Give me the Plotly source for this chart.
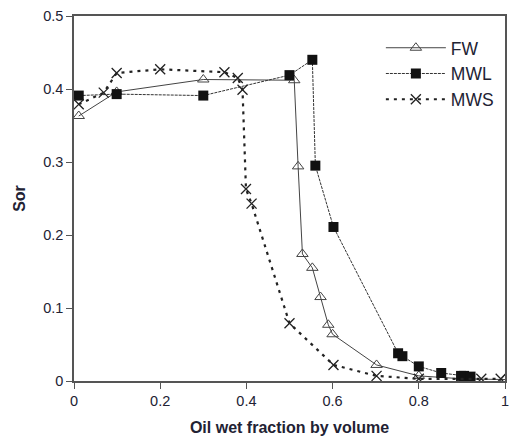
import plotly.graph_objects as go

fw_x = [0.011, 0.099, 0.30, 0.511, 0.52, 0.530, 0.553, 0.572, 0.590, 0.600, 0.702, 0.80, 0.90, 1.0]
fw_y = [0.363, 0.396, 0.413, 0.412, 0.294, 0.174, 0.155, 0.115, 0.077, 0.064, 0.022, 0.007, 0.003, 0.002]

mwl_x = [0.011, 0.099, 0.30, 0.50, 0.553, 0.560, 0.602, 0.752, 0.762, 0.80, 0.852, 0.898, 0.905, 0.92]
mwl_y = [0.391, 0.393, 0.391, 0.419, 0.440, 0.295, 0.211, 0.038, 0.034, 0.020, 0.011, 0.007, 0.007, 0.006]

mws_x = [0.011, 0.069, 0.099, 0.20, 0.349, 0.380, 0.391, 0.399, 0.412, 0.50, 0.602, 0.702, 0.80, 0.945, 0.99]
mws_y = [0.379, 0.395, 0.422, 0.427, 0.423, 0.415, 0.399, 0.263, 0.243, 0.079, 0.022, 0.007, 0.003, 0.003, 0.003]

x_ticks = [0, 0.2, 0.4, 0.6, 0.8, 1]
x_tick_labels = ["0", "0.2", "0.4", "0.6", "0.8", "1"]
y_ticks = [0, 0.1, 0.2, 0.3, 0.4, 0.5]
y_tick_labels = ["0", "0.1", "0.2", "0.3", "0.4", "0.5"]

txt = "#222233"
fig = go.Figure()
fig.add_trace(go.Scatter(
    x=fw_x, y=fw_y, name="FW", mode="lines+markers",
    line=dict(color="#444444", width=1),
    marker=dict(symbol="triangle-up-open", size=10, color="#444444", line=dict(width=1))))
fig.add_trace(go.Scatter(
    x=mwl_x, y=mwl_y, name="MWL", mode="lines+markers",
    line=dict(color="#333333", width=1, dash="3px,1px"),
    marker=dict(symbol="square", size=10, color="#111111")))
fig.add_trace(go.Scatter(
    x=mws_x, y=mws_y, name="MWS", mode="lines+markers",
    line=dict(color="#222222", width=2.2, dash="3px,5px"),
    marker=dict(symbol="x-thin-open", size=10, color="#222222", line=dict(width=1.3))))

# page body has an 8px default margin, so the figure is sized/offset to compensate
fig.update_layout(
    width=502, height=428,
    margin=dict(l=66, r=5, t=8, b=55),
    paper_bgcolor="white", plot_bgcolor="white",
    font=dict(family="Liberation Sans, Arial", color=txt, size=14),
    showlegend=True,
    legend=dict(x=0.712, y=0.962, xanchor="left", yanchor="top",
                font=dict(size=17.5, color=txt), itemwidth=60,
                bgcolor="rgba(0,0,0,0)", tracegroupgap=0),
    xaxis=dict(range=[0, 1], tickvals=x_ticks, ticktext=x_tick_labels, automargin=False,
               ticklabeloverflow="allow",
               showgrid=False, zeroline=False, showline=True, linecolor="#555555",
               linewidth=1.5, mirror=True, ticks="outside", ticklen=6, tickcolor="#555555",
               tickfont=dict(size=14.5, color=txt),
               title=dict(text="<b>Oil wet fraction by volume</b>", font=dict(size=16, color=txt), standoff=20)),
    yaxis=dict(range=[0, 0.5], tickvals=y_ticks, ticktext=y_tick_labels, automargin=False,
               ticklabeloverflow="allow",
               showgrid=False, zeroline=False, showline=True, linecolor="#555555",
               linewidth=1.5, mirror=True, ticks="outside", ticklen=6, tickcolor="#555555",
               tickfont=dict(size=14.5, color=txt),
               title=dict(text="<b>Sor</b>", font=dict(size=16, color=txt), standoff=14)),
)
fig.write_html("out.html")
